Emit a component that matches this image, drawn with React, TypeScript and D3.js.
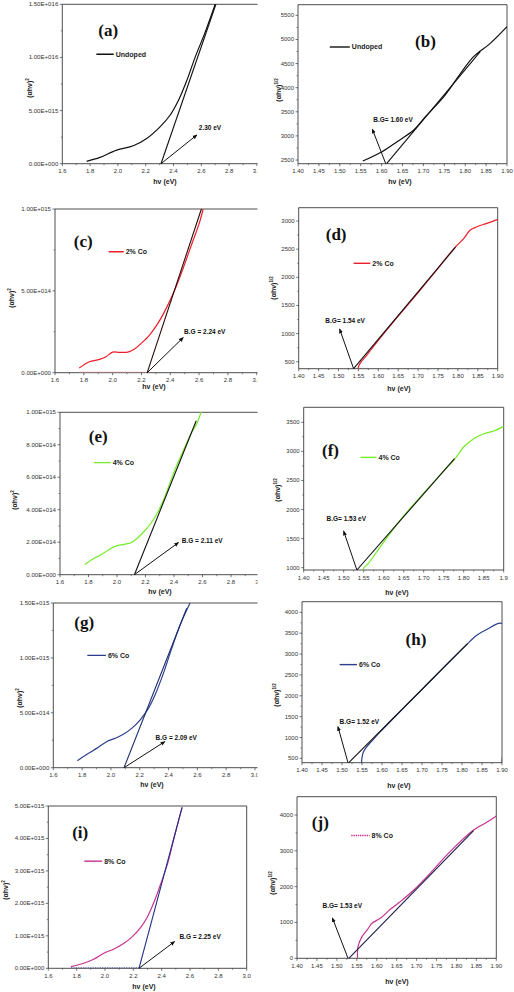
import React from "react";
import * as d3 from "d3";

const W = 514;
const H = 992;

// ---------------- tick values ----------------
const leftXTicks = [1.6, 1.8, 2.0, 2.2, 2.4, 2.6, 2.8, 3.0];
const rightXTicks = [1.4, 1.45, 1.5, 1.55, 1.6, 1.65, 1.7, 1.75, 1.8, 1.85, 1.9];
const aYTicks = [0, 5e15, 1e16, 1.5e16];
const cYTicks = [0, 5e14, 1e15];
const eYTicks = [0, 2e14, 4e14, 6e14, 8e14, 1e15];
const gYTicks = [0, 5e14, 1e15, 1.5e15];
const iYTicks = [0, 1e15, 2e15, 3e15, 4e15, 5e15];
const bYTicks = [2500, 3000, 3500, 4000, 4500, 5000, 5500];
const dYTicks = [500, 1000, 1500, 2000, 2500, 3000];
const fYTicks = [1000, 1500, 2000, 2500, 3000, 3500];
const hYTicks = [500, 1000, 1500, 2000, 2500, 3000, 3500, 4000];
const jYTicks = [0, 1000, 2000, 3000, 4000];

// ---------------- series (hν in eV) ----------------
// (a) Undoped, (αhν)^2
const aHv = [1.775, 1.871, 1.991, 2.111, 2.207, 2.303, 2.375, 2.436, 2.496, 2.556, 2.628, 2.7];
const aVal = [0.22e15, 0.59e15, 1.28e15, 1.69e15, 2.375e15, 3.47e15, 4.56e15, 5.97e15, 7.84e15, 10.03e15, 12.38e15, 15e15];
const aTanHv = [2.31, 2.705];
const aTanVal = [0, 1.5e16];

// (b) Undoped, (αhν)^1/2
const bHv = [1.555, 1.601, 1.637, 1.677, 1.705, 1.749, 1.789, 1.82, 1.86, 1.9];
const bVal = [2480, 2673, 2880, 3122, 3399, 3814, 4298, 4644, 4920, 5266];
const bTanHv = [1.612, 1.836];
const bTanVal = [2424, 4748];

// (c) 2% Co, (αhν)^2
const cHv = [1.768, 1.838, 1.908, 1.954, 2.001, 2.047, 2.105, 2.152, 2.198, 2.256, 2.314, 2.372, 2.431, 2.489, 2.547, 2.605, 2.628];
const cVal = [2.85e13, 6.7e13, 8.1e13, 9.8e13, 12.6e13, 12.4e13, 12.6e13, 14.5e13, 17.9e13, 23e13, 30.1e13, 39.3e13, 50.5e13, 63.7e13, 78e13, 92.3e13, 100e13];
const cTanHv = [2.24, 2.616];
const cTanVal = [0, 1e15];

// (d) 2% Co, (αhν)^1/2
const dHv = [1.549, 1.552, 1.558, 1.567, 1.58, 1.6, 1.65, 1.7, 1.75, 1.79, 1.815, 1.831, 1.848, 1.873, 1.9];
const dVal = [376, 440, 510, 580, 700, 880, 1310, 1730, 2160, 2510, 2692, 2840, 2899, 2958, 3030];
const dTanHv = [1.538, 1.794];
const dTanVal = [376, 2536];

// (e) 4% Co, (αhν)^2
const eHv = [1.773, 1.837, 1.885, 1.932, 1.991, 2.051, 2.098, 2.146, 2.193, 2.241, 2.288, 2.336, 2.383, 2.43, 2.478, 2.52, 2.56, 2.59];
const eVal = [0.62e14, 1.0e14, 1.21e14, 1.48e14, 1.76e14, 1.87e14, 1.97e14, 2.28e14, 2.69e14, 3.2e14, 3.88e14, 4.8e14, 5.93e14, 6.95e14, 7.9e14, 8.7e14, 9.3e14, 10e14];
const eTanHv = [2.122, 2.556];
const eTanVal = [0, 9.48e14];

// (f) 4% Co, (αhν)^1/2
const fHv = [1.548, 1.552, 1.56, 1.6, 1.65, 1.7, 1.75, 1.78, 1.8, 1.825, 1.85, 1.875, 1.9];
const fVal = [960, 1010, 1060, 1440, 1890, 2280, 2660, 2890, 3075, 3218, 3304, 3350, 3430];
const fTanHv = [1.533, 1.777];
const fTanVal = [960, 2874];

// (g) 6% Co, (αhν)^2
const gHv = [1.767, 1.831, 1.901, 1.97, 2.028, 2.086, 2.144, 2.202, 2.26, 2.306, 2.364, 2.422, 2.48, 2.549];
const gVal = [0.64e14, 1.21e14, 1.76e14, 2.37e14, 2.67e14, 3.04e14, 3.58e14, 4.34e14, 5.4e14, 6.62e14, 8.59e14, 10.87e14, 13.0e14, 15.0e14];
const gTanHv = [2.091, 2.526];
const gTanVal = [0, 14.52e14];

// (h) 6% Co, (αhν)^1/2
const hHv = [1.549, 1.55, 1.553, 1.562, 1.575, 1.59, 1.6, 1.65, 1.7, 1.75, 1.8, 1.814, 1.837, 1.862, 1.9, 1.9];
const hVal = [396, 520, 640, 780, 920, 1080, 1180, 1670, 2150, 2640, 3120, 3252, 3452, 3588, 3732, 396];
const hTanHv = [1.517, 1.814];
const hTanVal = [396, 3252];

// (i) 8% Co, (αhν)^2
const iHv = [1.759, 1.849, 1.92, 1.991, 2.063, 2.134, 2.193, 2.252, 2.3, 2.347, 2.395, 2.442, 2.49, 2.544];
const iVal = [0.05e15, 0.154e15, 0.277e15, 0.462e15, 0.595e15, 0.77e15, 0.975e15, 1.263e15, 1.59e15, 2.05e15, 2.62e15, 3.23e15, 4.06e15, 4.96e15];
const iTanHv = [2.24, 2.544];
const iTanVal = [0, 4.96e15];

// (j) 8% Co, (αhν)^1/2
const jHv = [1.552, 1.553, 1.563, 1.576, 1.588, 1.609, 1.634, 1.659, 1.693, 1.734, 1.784, 1.843, 1.876, 1.9];
const jVal = [0, 326, 605, 791, 977, 1116, 1367, 1581, 1907, 2372, 2977, 3581, 3795, 3972];
const jTanHv = [1.53, 1.843];
const jTanVal = [0, 3563];

// ---------------- formatting ----------------
const fmtSci = (v: number) => {
  if (v === 0) return "0.00E+000";
  const e = Math.floor(Math.log10(Math.abs(v)) + 1e-9);
  const m = v / Math.pow(10, e);
  return m.toFixed(2) + "E" + (e >= 0 ? "+" : "-") + String(Math.abs(e)).padStart(3, "0");
};
const fmt1 = (v: number) => v.toFixed(1);
const fmt2 = (v: number) => v.toFixed(2);
const fmtInt = (v: number) => String(Math.round(v));

const RED = "#ee1d2a";
const GREEN = "#74ec26";
const NAVY = "#2c3f8e";
const MAGENTA = "#c8338f";

interface PanelCfg {
  key: string;
  id: string;
  box: { l: number; r: number; t: number; b: number };
  xDomain: [number, number];
  yDomain: [number, number];
  xTicks: number[];
  xFmt: (v: number) => string;
  yTicks: number[];
  yFmt: (v: number) => string;
  curveX: number[];
  curveY: number[];
  color: string;
  tanX: number[];
  tanY: number[];
  tanColor: string;
  arrow: [number, number, number, number];
  labelPos: [number, number];
  labelText: string;
  legX: [number, number];
  legY: number;
  legText: string;
  legDash?: string;
  idPos: [number, number];
  power: string;
  yLab: [number, number];
  xLab: [number, number];
  clip: boolean;
  baseLine?: { x: [number, number]; color: string; dash: string };
  lastXLabel?: string;
}

const panels: PanelCfg[] = [
  {
    key: "a", id: "(a)", box: { l: 62.3, r: 256.9, t: 4.3, b: 163.7 },
    xDomain: [1.6, 3.0], yDomain: [0, 1.5e16], xTicks: leftXTicks, xFmt: fmt1,
    yTicks: aYTicks, yFmt: fmtSci, curveX: aHv, curveY: aVal, color: "#111",
    tanX: aTanHv, tanY: aTanVal, tanColor: "#111",
    arrow: [2.31, 0, 2.567, 2.69e15], labelPos: [2.582, 3.2e15], labelText: "2.30 eV",
    legX: [1.845, 1.97], legY: 1.03e16, legText: "Undoped", idPos: [1.93, 1.2e16],
    power: "2", yLab: [30, 88], xLab: [165, 184], clip: true,
  },
  {
    key: "b", id: "(b)", box: { l: 298, r: 507, t: 4.7, b: 163.7 },
    xDomain: [1.4, 1.9], yDomain: [2424, 5721], xTicks: rightXTicks, xFmt: fmt2,
    yTicks: bYTicks, yFmt: fmtInt, curveX: bHv, curveY: bVal, color: "#111",
    tanX: bTanHv, tanY: bTanVal, tanColor: "#111",
    arrow: [1.61, 2424, 1.578, 3136], labelPos: [1.58, 3288], labelText: "B.G= 1.60 eV",
    legX: [1.476, 1.524], legY: 4844, legText: "Undoped", idPos: [1.705, 4840],
    power: "1/2", yLab: [279, 90], xLab: [400, 184], clip: false,
  },
  {
    key: "c", id: "(c)", box: { l: 55, r: 256.7, t: 209, b: 372.7 },
    xDomain: [1.6, 3.0], yDomain: [0, 1e15], xTicks: leftXTicks, xFmt: fmt1,
    yTicks: cYTicks, yFmt: fmtSci, curveX: cHv, curveY: cVal, color: RED,
    tanX: cTanHv, tanY: cTanVal, tanColor: "#2a0a0a",
    arrow: [2.24, 0, 2.489, 2.14e14], labelPos: [2.496, 2.36e14], labelText: "B.G = 2.24 eV",
    legX: [1.973, 2.077], legY: 7.39e14, legText: "2% Co", idPos: [1.796, 7.7e14],
    power: "2", yLab: [11.5, 298], xLab: [154, 389], clip: true,
    baseLine: { x: [1.77, 2.24], color: "#f08080", dash: "1.5,1" },
  },
  {
    key: "d", id: "(d)", box: { l: 298.7, r: 497.7, t: 207.7, b: 368.7 },
    xDomain: [1.4, 1.9], yDomain: [376, 3237], xTicks: rightXTicks, xFmt: fmt2,
    yTicks: dYTicks, yFmt: fmtInt, curveX: dHv, curveY: dVal, color: RED,
    tanX: dTanHv, tanY: dTanVal, tanColor: "#111",
    arrow: [1.538, 376, 1.503, 1077], labelPos: [1.467, 1195], labelText: "B.G= 1.54 eV",
    legX: [1.538, 1.58], legY: 2249, legText: "2% Co", idPos: [1.494, 2662],
    power: "1/2", yLab: [274, 288], xLab: [399, 391], clip: false,
  },
  {
    key: "e", id: "(e)", box: { l: 60, r: 259.5, t: 412.3, b: 574.7 },
    xDomain: [1.6, 3.0], yDomain: [0, 1e15], xTicks: leftXTicks, xFmt: fmt1,
    yTicks: eYTicks, yFmt: fmtSci, curveX: eHv, curveY: eVal, color: GREEN,
    tanX: eTanHv, tanY: eTanVal, tanColor: "#111",
    arrow: [2.122, 0, 2.43, 1.97e14], labelPos: [2.454, 1.93e14], labelText: "B.G = 2.11 eV",
    legX: [1.837, 1.956], legY: 6.9e14, legText: "4% Co", idPos: [1.868, 8.19e14],
    power: "2", yLab: [15, 500], xLab: [160, 594], clip: true,
  },
  {
    key: "f", id: "(f)", box: { l: 303.7, r: 503.7, t: 407.3, b: 570 },
    xDomain: [1.4, 1.9], yDomain: [960, 3758], xTicks: rightXTicks, xFmt: fmt2,
    yTicks: fYTicks, yFmt: fmtInt, curveX: fHv, curveY: fVal, color: GREEN,
    tanX: fTanHv, tanY: fTanVal, tanColor: "#111",
    arrow: [1.533, 960, 1.5, 1626], labelPos: [1.457, 1804], labelText: "B.G= 1.53 eV",
    legX: [1.542, 1.582], legY: 2897, legText: "4% Co", idPos: [1.467, 2914],
    power: "1/2", yLab: [278, 490], xLab: [397, 595], clip: false, lastXLabel: "1.9",
  },
  {
    key: "g", id: "(g)", box: { l: 53.3, r: 255, t: 603, b: 767.7 },
    xDomain: [1.6, 3.0], yDomain: [0, 1.5e15], xTicks: leftXTicks, xFmt: fmt1,
    yTicks: gYTicks, yFmt: fmtSci, curveX: gHv, curveY: gVal, color: NAVY,
    tanX: gTanHv, tanY: gTanVal, tanColor: "#1d2c6e",
    arrow: [2.091, 0, 2.373, 2.37e14], labelPos: [2.31, 2.52e14], labelText: "B.G = 2.09 eV",
    legX: [1.836, 1.965], legY: 10.23e14, legText: "6% Co", idPos: [1.815, 12.7e14],
    power: "2", yLab: [20, 698], xLab: [152, 787], clip: true,
  },
  {
    key: "h", id: "(h)", box: { l: 302, r: 502, t: 601.7, b: 762.7 },
    xDomain: [1.4, 1.9], yDomain: [396, 4256], xTicks: rightXTicks, xFmt: fmt2,
    yTicks: hYTicks, yFmt: fmtInt, curveX: hHv, curveY: hVal, color: NAVY,
    tanX: hTanHv, tanY: hTanVal, tanColor: "#111",
    arrow: [1.515, 396, 1.49, 1256], labelPos: [1.494, 1335], labelText: "B.G= 1.52 eV",
    legX: [1.494, 1.5375], legY: 2748, legText: "6% Co", idPos: [1.685, 3228],
    power: "1/2", yLab: [277, 695], xLab: [399, 788], clip: false,
  },
  {
    key: "i", id: "(i)", box: { l: 48.3, r: 246.7, t: 806, b: 968.3 },
    xDomain: [1.6, 3.0], yDomain: [0, 5e15], xTicks: leftXTicks, xFmt: fmt1,
    yTicks: iYTicks, yFmt: fmtSci, curveX: iHv, curveY: iVal, color: MAGENTA,
    tanX: iTanHv, tanY: iTanVal, tanColor: "#1f2f86",
    arrow: [2.24, 0, 2.49, 0.82e15], labelPos: [2.525, 0.9e15], labelText: "B.G = 2.25 eV",
    legX: [1.854, 1.98], legY: 3.3e15, legText: "8% Co", idPos: [1.825, 4.0e15],
    power: "2", yLab: [5.5, 890], xLab: [144, 989], clip: false,
    baseLine: { x: [1.76, 2.24], color: "#2a3a8a", dash: "1.2,1.2" },
  },
  {
    key: "j", id: "(j)", box: { l: 297, r: 496.3, t: 796.7, b: 958.3 },
    xDomain: [1.4, 1.9], yDomain: [0, 4510], xTicks: rightXTicks, xFmt: fmt2,
    yTicks: jYTicks, yFmt: fmtInt, curveX: jHv, curveY: jVal, color: MAGENTA,
    tanX: jTanHv, tanY: jTanVal, tanColor: "#1a1c48",
    arrow: [1.528, 0, 1.489, 1121], labelPos: [1.464, 1400], labelText: "B.G= 1.53 eV",
    legX: [1.536, 1.582], legY: 3428, legText: "8% Co", legDash: "1.4,0.8", idPos: [1.4585, 3628],
    power: "1/2", yLab: [273, 883], xLab: [397, 984], clip: false,
  },
];

const SANS = "'Liberation Sans', Arial, Helvetica, sans-serif";
const SERIF = "'Liberation Serif', 'Times New Roman', serif";
const FRAME = "#3a3a3a";

function mids(arr: number[]) {
  const out: number[] = [];
  for (let k = 0; k < arr.length - 1; k++) out.push((arr[k] + arr[k + 1]) / 2);
  return out;
}

function Panel({ p }: { p: PanelCfg }) {
  const { l, r, t, b } = p.box;
  const x = d3.scaleLinear().domain(p.xDomain).range([l, r]);
  const y = d3.scaleLinear().domain(p.yDomain).range([b, t]);
  const line = d3
    .line<[number, number]>()
    .x((d) => x(d[0]))
    .y((d) => y(d[1]))
    .curve(d3.curveCatmullRom.alpha(0.5));
  const straight = d3
    .line<[number, number]>()
    .x((d) => x(d[0]))
    .y((d) => y(d[1]));
  const curvePts = p.curveX.map((v, k) => [v, p.curveY[k]] as [number, number]);
  const tanPts = p.tanX.map((v, k) => [v, p.tanY[k]] as [number, number]);
  const plotClip = `plot-${p.key}`;
  const outerClip = `outer-${p.key}`;
  const rightEdge = p.clip ? 257.5 : r;
  const xMinor = mids(p.xTicks);
  const yMinor = mids(p.yTicks);
  const [ax1, ay1, ax2, ay2] = p.arrow;

  return (
    <g clipPath={p.clip ? `url(#${outerClip})` : undefined}>
      <defs>
        <clipPath id={plotClip}>
          <rect x={l} y={t - 0.5} width={rightEdge - l} height={b - t + 1} />
        </clipPath>
        {p.clip && (
          <clipPath id={outerClip}>
            <rect x={0} y={t - 10} width={257.5} height={b - t + 40} />
          </clipPath>
        )}
      </defs>

      {/* frame */}
      <line x1={l} x2={l} y1={t} y2={b} stroke={FRAME} strokeWidth={0.9} />
      <line x1={l} x2={p.clip ? 258 : r} y1={b} y2={b} stroke={FRAME} strokeWidth={0.9} />
      <line x1={l} x2={p.clip ? 258 : r} y1={t} y2={t} stroke={FRAME} strokeWidth={0.9} />
      {!p.clip && <line x1={r} x2={r} y1={t} y2={b} stroke={FRAME} strokeWidth={0.9} />}

      {/* x ticks */}
      {p.xTicks.map((v, k) => (
        <g key={`xt${k}`}>
          <line x1={x(v)} x2={x(v)} y1={b} y2={b + 2.5} stroke={FRAME} strokeWidth={0.7} />
          <text
            x={x(v)}
            y={b + 9.5}
            fontSize={6}
            fontFamily={SANS}
            textAnchor="middle"
            fill="#333"
          >
            {k === p.xTicks.length - 1 && p.lastXLabel ? p.lastXLabel : p.xFmt(v)}
          </text>
        </g>
      ))}
      {xMinor.map((v, k) => (
        <line key={`xm${k}`} x1={x(v)} x2={x(v)} y1={b} y2={b + 1.5} stroke={FRAME} strokeWidth={0.6} />
      ))}

      {/* y ticks */}
      {p.yTicks.map((v, k) => (
        <g key={`yt${k}`}>
          <line x1={l - 2.5} x2={l} y1={y(v)} y2={y(v)} stroke={FRAME} strokeWidth={0.7} />
          <text
            x={l - 4}
            y={y(v) + 2}
            fontSize={p.power === "2" ? 6.1 : 6}
            fontFamily={SANS}
            textAnchor="end"
            fill="#333"
          >
            {p.yFmt(v)}
          </text>
        </g>
      ))}
      {yMinor.map((v, k) => (
        <line key={`ym${k}`} x1={l - 1.5} x2={l} y1={y(v)} y2={y(v)} stroke={FRAME} strokeWidth={0.6} />
      ))}

      {/* data */}
      <g clipPath={`url(#${plotClip})`}>
        {p.baseLine && (
          <line
            x1={x(p.baseLine.x[0])}
            x2={x(p.baseLine.x[1])}
            y1={y(p.yDomain[0]) - 0.5}
            y2={y(p.yDomain[0]) - 0.5}
            stroke={p.baseLine.color}
            strokeWidth={0.8}
            strokeDasharray={p.baseLine.dash}
          />
        )}
        <path d={line(curvePts) || ""} fill="none" stroke={p.color} strokeWidth={1.2} />
        <path d={straight(tanPts) || ""} fill="none" stroke={p.tanColor} strokeWidth={1.1} />
      </g>

      {/* annotation arrow */}
      <line
        x1={x(ax1)}
        y1={y(ay1)}
        x2={x(ax2)}
        y2={y(ay2)}
        stroke="#111"
        strokeWidth={1}
        markerEnd="url(#arrowHead)"
      />
      <text
        x={x(p.labelPos[0])}
        y={y(p.labelPos[1])}
        fontSize={6.5}
        fontWeight="bold"
        fontFamily={SANS}
        fill="#111"
      >
        {p.labelText}
      </text>

      {/* legend */}
      <line
        x1={x(p.legX[0])}
        x2={x(p.legX[1])}
        y1={y(p.legY)}
        y2={y(p.legY)}
        stroke={p.color}
        strokeWidth={1.4}
        strokeDasharray={p.legDash}
      />
      <text
        x={x(p.legX[1]) + 2}
        y={y(p.legY) + 2.4}
        fontSize={7}
        fontWeight="bold"
        fontFamily={SANS}
        fill="#222"
      >
        {p.legText}
      </text>

      {/* panel id */}
      <text
        x={x(p.idPos[0])}
        y={y(p.idPos[1])}
        fontSize={17}
        fontWeight="bold"
        fontFamily={SERIF}
        textAnchor="middle"
        fill="#111"
      >
        {p.id}
      </text>

      {/* axis titles */}
      <text
        x={p.xLab[0]}
        y={p.xLab[1]}
        fontSize={7}
        fontWeight="bold"
        fontFamily={SANS}
        textAnchor="middle"
        fill="#222"
      >
        hν (eV)
      </text>
      <text
        transform={`translate(${p.yLab[0] + 2.4},${p.yLab[1]}) rotate(-90)`}
        fontSize={7}
        fontWeight="bold"
        fontFamily={SANS}
        textAnchor="middle"
        fill="#222"
      >
        (αhν)
        <tspan fontSize={4.5} dy={-3}>
          {p.power}
        </tspan>
      </text>
    </g>
  );
}

export default function App() {
  return (
    <svg
      width={W}
      height={H}
      viewBox={`0 0 ${W} ${H}`}
      style={{ position: "absolute", left: 0, top: 0, background: "#fff" }}
    >
      <defs>
        <marker
          id="arrowHead"
          viewBox="0 0 10 10"
          refX={8}
          refY={5}
          markerWidth={5}
          markerHeight={5}
          markerUnits="userSpaceOnUse"
          orient="auto"
        >
          <path d="M0,1 L10,5 L0,9 z" fill="#111" />
        </marker>
      </defs>
      <rect x={0} y={0} width={W} height={H} fill="#fff" />
      {panels.map((p) => (
        <Panel key={p.key} p={p} />
      ))}
    </svg>
  );
}
